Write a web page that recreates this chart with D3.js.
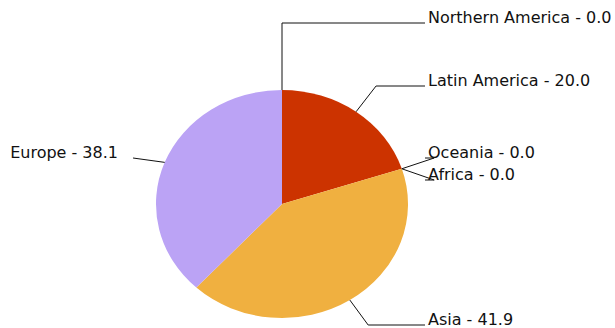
<!DOCTYPE html>
<html>
<head>
<meta charset="utf-8">
<script src="https://cdn.jsdelivr.net/npm/d3@7/dist/d3.min.js"></script>
<style>
  html, body { margin: 0; padding: 0; background: #ffffff; }
  svg { display: block; }
</style>
</head>
<body>
<svg id="chart" width="615" height="328"></svg>
<script>
// ---- data ----
const categories = ["Northern America", "Latin America", "Oceania", "Africa", "Asia", "Europe"];
const values = [0.0, 20.0, 0.0, 0.0, 41.9, 38.1];
const colors = ["#4a6fd0", "#cc3300", "#66aa33", "#999933", "#f0b040", "#bba3f5"];

// ---- layout (not data) ----
const W = 615, H = 328;
const cx = 282, cy = 204, rx = 126, ry = 114;
const linkFactor = 1.27;
const labelY = [23, 86, 158, 180, 325, 158];   // label baselines chosen by label distribution
const rightLabelX = 428, rightLinkEnd = 425, leftLabelEnd = 118;

const svg = d3.select("#chart");
svg.append("rect").attr("width", W).attr("height", H).attr("fill", "#fff");

const rows = categories.map((c, i) => ({ name: c, value: values[i], color: colors[i], ly: labelY[i] }));

const pie = d3.pie().sort(null).value(d => d.value).startAngle(0).endAngle(2 * Math.PI);
const arcs = pie(rows);

const arc = d3.arc().innerRadius(0).outerRadius(ry);

const g = svg.append("g").attr("transform", `translate(${cx},${cy}) scale(${rx / ry},1)`);
g.selectAll("path")
  .data(arcs.filter(d => d.data.value > 0))
  .join("path")
  .attr("d", arc)
  .attr("fill", d => d.data.color);

const fmt = d3.format(".1f");
const lines = svg.append("g");
const labels = svg.append("g");

arcs.forEach(d => {
  const mid = (d.startAngle + d.endAngle) / 2;
  const s = Math.sin(mid), c = Math.cos(mid);
  const ex = cx + rx * s, ey = cy - ry * c;
  const bx = cx + rx * linkFactor * s;
  const by = d.data.ly;
  const right = s >= -1e-9;
  const pts = right ? [[ex, ey], [bx, by], [rightLinkEnd, by]] : [[ex, ey], [bx, by]];
  lines.append("path")
    .attr("d", d3.line()(pts))
    .attr("fill", "none")
    .attr("stroke", "#111")
    .attr("stroke-width", 1);
  labels.append("text")
    .attr("x", right ? rightLabelX : leftLabelEnd)
    .attr("y", by)
    .attr("text-anchor", right ? "start" : "end")
    .attr("font-family", "DejaVu Sans, Verdana, sans-serif")
    .attr("font-size", 16)
    .attr("fill", "#111")
    .text(`${d.data.name} - ${fmt(d.data.value)}`);
});
</script>
</body>
</html>
